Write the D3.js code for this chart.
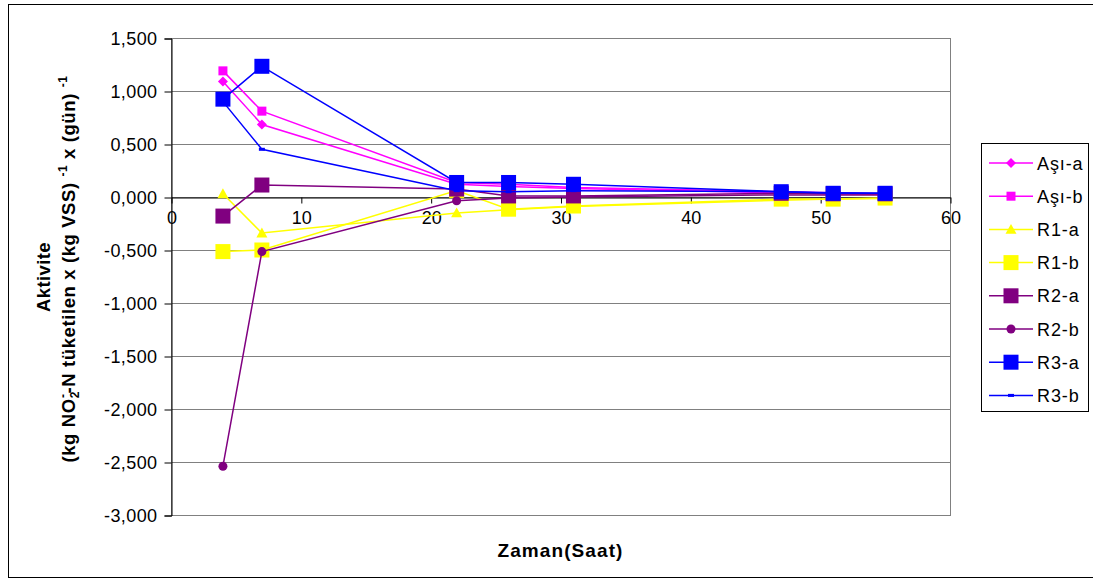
<!DOCTYPE html>
<html lang="tr">
<head>
<meta charset="UTF-8">
<title>Aktivite - Zaman</title>
<script src="https://d3js.org/d3.v7.min.js"></script>
<style>
  body { margin: 0; background: #fff; }
  svg text { font-family: "Liberation Sans", Arial, sans-serif; }
</style>
</head>
<body>
<svg width="1093" height="586"></svg>
<script>
// Zaman (saat) ve seriler
const zaman = [4, 7, 22, 26, 31, 47, 51, 55];
const asiA = [1.09, 0.684, 0.12, 0.10, 0.08, 0.04, 0.03, 0.025];
const asiB = [1.19, 0.81, 0.137, 0.12, 0.09, 0.05, 0.04, 0.03];
const r1A  = [0.03, -0.34, -0.15, -0.12, -0.09, -0.03, -0.02, -0.015];
const r1B  = [-0.515, -0.50, 0.06, -0.115, -0.085, -0.02, -0.02, -0.01];
const r2A  = [-0.18, 0.113, 0.075, 0.01, 0.01, 0.035, 0.03, 0.03];
const r2B  = [-2.54, -0.515, -0.035, -0.01, 0.0, 0.02, 0.02, 0.02];
const r3A  = [0.923, 1.233, 0.137, 0.137, 0.12, 0.05, 0.035, 0.035];
const r3B  = [0.90, 0.45, 0.06, 0.05, 0.06, 0.05, 0.04, 0.035];

const xTicks = [0, 10, 20, 30, 40, 50, 60];
const yTicks = [1.5, 1.0, 0.5, 0, -0.5, -1.0, -1.5, -2.0, -2.5, -3.0];

const seriler = [
  { ad: "Aşı-a", deger: asiA, renk: "#FF00FF", isaret: "diamond", boy: 10 },
  { ad: "Aşı-b", deger: asiB, renk: "#FF00FF", isaret: "square", boy: 9 },
  { ad: "R1-a",  deger: r1A,  renk: "#FFFF00", isaret: "triangle", boy: 11 },
  { ad: "R1-b",  deger: r1B,  renk: "#FFFF00", isaret: "square", boy: 15 },
  { ad: "R2-a",  deger: r2A,  renk: "#800080", isaret: "square", boy: 15 },
  { ad: "R2-b",  deger: r2B,  renk: "#800080", isaret: "circle", boy: 9 },
  { ad: "R3-a",  deger: r3A,  renk: "#0000FF", isaret: "square", boy: 15 },
  { ad: "R3-b",  deger: r3B,  renk: "#0000FF", isaret: "dash", boy: 5 }
];

const svg = d3.select("svg");

// dis cerceve
svg.append("rect")
  .attr("x", 8.5).attr("y", 4.5)
  .attr("width", 1100).attr("height", 573)
  .attr("fill", "none").attr("stroke", "#000");

const plot = { left: 171, right: 950, top: 38, bottom: 515 };

const x = d3.scaleLinear().domain([0, 60]).range([plot.left, plot.right]);
const y = d3.scaleLinear().domain([-3, 1.5]).range([plot.bottom, plot.top]);

const fmt = v => (v < 0 ? "-" : "") + Math.abs(v).toFixed(3).replace(".", ",");

// yatay izgara
svg.append("g").selectAll("line")
  .data(yTicks)
  .enter().append("line")
  .attr("x1", plot.left).attr("x2", plot.right)
  .attr("y1", d => Math.round(y(d)) + 0.5).attr("y2", d => Math.round(y(d)) + 0.5)
  .attr("stroke", "#808080");

// cizim alani cercevesi
svg.append("rect")
  .attr("x", plot.left + 0.5).attr("y", plot.top + 0.5)
  .attr("width", plot.right - plot.left).attr("height", plot.bottom - plot.top)
  .attr("fill", "none").attr("stroke", "#808080");

// Y ekseni
const yAxis = svg.append("g")
  .attr("transform", `translate(${plot.left + 0.5},0.5)`)
  .call(d3.axisLeft(y).tickValues(yTicks).tickFormat(fmt).tickSize(7).tickPadding(7));
yAxis.select(".domain").attr("stroke", "#000");
yAxis.selectAll("text").attr("font-size", 18).attr("fill", "#000")
  .attr("letter-spacing", 0.4)
  .attr("font-family", "Liberation Sans, Arial, sans-serif");

// X ekseni (y = 0 uzerinde)
const xAxis = svg.append("g")
  .attr("transform", `translate(0.5,${Math.round(y(0)) + 0.5})`)
  .call(d3.axisBottom(x).tickValues(xTicks).tickFormat(d3.format("d")).tickSize(6).tickSizeOuter(0).tickPadding(8));
xAxis.select(".domain").attr("stroke", "#000");
xAxis.selectAll("text").attr("font-size", 18).attr("fill", "#000")
  .attr("font-family", "Liberation Sans, Arial, sans-serif");

// isaretler
function isaretCiz(g, tip, boy, renk) {
  const h = boy / 2;
  if (tip === "square") {
    g.append("rect").attr("x", -h).attr("y", -h).attr("width", boy).attr("height", boy).attr("fill", renk);
  } else if (tip === "diamond") {
    g.append("path").attr("d", `M0,${-h}L${h},0L0,${h}L${-h},0Z`).attr("fill", renk);
  } else if (tip === "triangle") {
    g.append("path").attr("d", `M0,${-h}L${h},${h * 0.8}L${-h},${h * 0.8}Z`).attr("fill", renk);
  } else if (tip === "circle") {
    g.append("circle").attr("r", h).attr("fill", renk);
  } else if (tip === "dash") {
    g.append("rect").attr("x", -3).attr("y", -1.5).attr("width", 6).attr("height", 3).attr("fill", renk);
  }
}

const line = d3.line().x(d => x(d[0])).y(d => y(d[1]));

seriler.forEach(s => {
  const pts = zaman.map((t, i) => [t, s.deger[i]]);
  svg.append("path")
    .attr("d", line(pts))
    .attr("fill", "none")
    .attr("stroke", s.renk)
    .attr("stroke-width", 1.5);
  svg.append("g").selectAll("g")
    .data(pts)
    .enter().append("g")
    .attr("transform", d => `translate(${x(d[0])},${y(d[1])})`)
    .each(function () { isaretCiz(d3.select(this), s.isaret, s.boy, s.renk); });
});

// lejant
const lej = { x: 981.5, y: 143.5, w: 107, h: 268 };
svg.append("rect")
  .attr("x", lej.x).attr("y", lej.y).attr("width", lej.w).attr("height", lej.h)
  .attr("fill", "#fff").attr("stroke", "#000");

const lejG = svg.append("g").selectAll("g")
  .data(seriler)
  .enter().append("g")
  .attr("transform", (d, i) => `translate(0,${163 + i * 33.2})`);
lejG.append("line")
  .attr("x1", 989).attr("x2", 1033)
  .attr("stroke", d => d.renk).attr("stroke-width", 1.5);
lejG.each(function (d) {
  const g = d3.select(this).append("g").attr("transform", "translate(1011,0)");
  isaretCiz(g, d.isaret, d.boy, d.renk);
});
lejG.append("text")
  .attr("x", 1037).attr("y", 6.5)
  .attr("font-size", 18)
  .attr("letter-spacing", 0.9)
  .text(d => d.ad);

// eksen basliklari
svg.append("text")
  .attr("x", (plot.left + plot.right) / 2).attr("y", 557)
  .attr("text-anchor", "middle")
  .attr("font-size", 19).attr("font-weight", "bold")
  .attr("letter-spacing", 1.1)
  .text("Zaman(Saat)");

svg.append("text")
  .attr("transform", "translate(50,277) rotate(-90)")
  .attr("text-anchor", "middle")
  .attr("font-size", 18.5).attr("font-weight", "bold")
  .attr("letter-spacing", 0.4)
  .text("Aktivite");

const y2 = svg.append("text")
  .attr("transform", "translate(75,269) rotate(-90)")
  .attr("text-anchor", "middle")
  .attr("font-size", 18.5).attr("font-weight", "bold")
  .attr("letter-spacing", 0.6);
y2.append("tspan").text("(kg NO");
y2.append("tspan").attr("font-size", 12).attr("dy", 4).text("2");
y2.append("tspan").attr("font-size", 12).attr("dy", -12).attr("dx", -7).text("-");
y2.append("tspan").attr("dy", 8).text("-N tüketilen x (kg VSS) ");
y2.append("tspan").attr("font-size", 12).attr("dy", -8).text("-1");
y2.append("tspan").attr("dy", 8).text(" x (gün) ");
y2.append("tspan").attr("font-size", 12).attr("dy", -8).text("-1");
</script>
</body>
</html>
